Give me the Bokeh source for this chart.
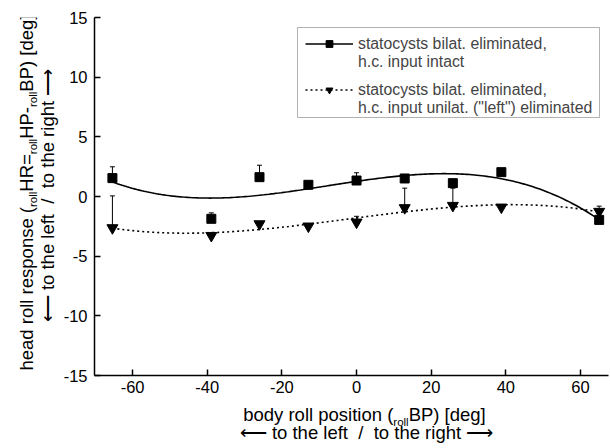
import numpy as np
from bokeh.plotting import figure
from bokeh.layouts import column, row
from bokeh.models import (Whisker, TeeHead, Label, Legend, LegendItem, BoxAnnotation,
                          ColumnDataSource, FixedTicker, PrintfTickFormatter)
from bokeh.embed import file_html
from bokeh.resources import INLINE

# ---------------- data ----------------
body_pos = [-65.4, -38.9, -26.0, -12.9, 0.0, 12.9, 25.8, 38.8, 65.0]
resp_intact = [1.54, -1.87, 1.62, 0.98, 1.34, 1.51, 1.12, 2.04, -1.96]
err_intact = [0.95, 0.50, 1.00, 0.0, 0.65, 0.30, 0.0, 0.0, 0.0]
resp_unilat = [-2.63, -3.28, -2.30, -2.49, -2.16, -0.95, -0.76, -0.90, -1.26]
err_unilat = [2.68, 0.0, 0.0, 0.0, 0.50, 1.65, 1.46, 0.0, 0.45]
x_ticks = [-60, -40, -20, 0, 20, 40, 60]
y_ticks = [-15, -10, -5, 0, 5, 10, 15]
legend_line1 = ["statocysts bilat. eliminated,", "statocysts bilat. eliminated,"]
legend_line2 = ["h.c. input intact", "h.c. input unilat. (\"left\") eliminated"]
direction_text = "\u27f5 to the left\u00a0 /\u00a0 to the right \u27f6"

FONT = "Liberation Sans"
XMIN, XMAX, YMIN, YMAX = -70.2, 67.5, -15, 15

# page layout (pixels): y-title strip | main plot ; x-title strip below
YT_W = 60
MAIN_W, MAIN_H = 550, 400
XT_H = 48
BL, BR, BT, BB = 34, 2, 17, 25
FL = YT_W + BL            # frame left (page px)
FT = BT                   # frame top
FW = MAIN_W - BL - BR
FH = MAIN_H - BT - BB
FB = FT + FH


def dx(px):
    return XMIN + (px - FL) * (XMAX - XMIN) / FW


def dy(py):
    return YMAX - (py - FT) * (YMAX - YMIN) / FH


# Helvetica / Arial advance widths (1/1000 em)
AW = {' ': 278, 'a': 556, 'b': 556, 'c': 500, 'd': 556, 'e': 556, 'g': 556,
      'h': 556, 'i': 222, 'l': 222, 'n': 556, 'o': 556, 'p': 556, 'r': 333,
      's': 500, 't': 278, 'y': 500, '(': 333, ')': 333, '[': 278, ']': 278,
      '=': 584, '-': 333, 'H': 722, 'R': 722, 'P': 667, 'B': 667}


def tw(s, size):
    return sum(AW.get(c, 556) for c in s) * size / 1000.0


# ---------------- main plot ----------------
p = figure(width=MAIN_W, height=MAIN_H, x_range=(XMIN, XMAX), y_range=(YMIN, YMAX),
           output_backend="svg", toolbar_location=None,
           min_border_left=BL, min_border_right=BR, min_border_top=BT,
           min_border_bottom=BB)
p.outline_line_color = None
p.xgrid.visible = False
p.ygrid.visible = False
p.background_fill_color = "white"
p.border_fill_color = "white"

for ax, ticks in ((p.xaxis[0], x_ticks), (p.yaxis[0], y_ticks)):
    ax.ticker = FixedTicker(ticks=ticks)
    ax.formatter = PrintfTickFormatter(format="%d")
    ax.axis_line_color = "black"
    ax.axis_line_width = 1.5
    ax.major_tick_line_color = "black"
    ax.major_tick_line_width = 1.5
    ax.major_tick_in = 6
    ax.major_tick_out = 0
    ax.minor_tick_line_color = None
    ax.major_label_text_font = FONT
    ax.major_label_text_font_size = "16.5px"
    ax.major_label_text_color = "black"
p.xaxis.major_label_standoff = 5
p.yaxis.major_label_standoff = 7

# fitted curves (cubic regression through the data)
xs = np.linspace(min(body_pos), max(body_pos), 200)
fit_a = np.polyval(np.polyfit(body_pos, resp_intact, 3), xs)
fit_b = np.polyval(np.polyfit(body_pos, resp_unilat, 3), xs)

line_a = p.line(xs, fit_a, line_color="black", line_width=1.6)
line_b = p.line(xs, fit_b, line_color="black", line_width=1.6, line_dash="2 3")

# error bars (one-sided, upwards)
ia = [i for i, e in enumerate(err_intact) if e > 0]
src_ea = ColumnDataSource(dict(x=[body_pos[i] for i in ia],
                               lo=[resp_intact[i] for i in ia],
                               hi=[resp_intact[i] + err_intact[i] for i in ia]))
ib = [i for i, e in enumerate(err_unilat) if e > 0]
src_eb = ColumnDataSource(dict(x=[body_pos[i] for i in ib],
                               lo=[resp_unilat[i] for i in ib],
                               hi=[resp_unilat[i] + err_unilat[i] for i in ib]))
for src in (src_ea, src_eb):
    p.add_layout(Whisker(source=src, base="x", lower="lo", upper="hi",
                         dimension="height", line_color="black", line_width=1,
                         lower_head=None,
                         upper_head=TeeHead(size=5, line_color="black", line_width=1)))

sq = p.scatter(body_pos, resp_intact, marker="square", size=9,
               fill_color="black", line_color="black")
tri = p.scatter(body_pos, resp_unilat, marker="inverted_triangle", size=11,
                fill_color="black", line_color="black")
blank = p.line(x=[], y=[], line_alpha=0)  # glyph-free continuation lines

# legend frame
p.add_layout(BoxAnnotation(left=dx(297), right=dx(599), top=dy(27), bottom=dy(117),
                           fill_color="white", fill_alpha=1.0,
                           line_color="black", line_width=1))


def make_legend(l1, l2, rends, top_px):
    lg = Legend(items=[LegendItem(label=l1, renderers=rends),
                       LegendItem(label=l2, renderers=[blank])],
                location=(305 - FL, FB - (top_px + 34)))
    lg.label_text_font = FONT
    lg.label_text_font_size = "15.8px"
    lg.label_text_line_height = 0.94
    lg.label_height = 17
    lg.glyph_height = 17
    lg.glyph_width = 48
    lg.label_standoff = 5
    lg.padding = 0
    lg.spacing = 0
    lg.margin = 0
    lg.border_line_color = None
    lg.background_fill_alpha = 0.0
    p.add_layout(lg)


make_legend(legend_line1[0], legend_line2[0], [line_a, sq], 36.5)
make_legend(legend_line1[1], legend_line2[1], [line_b, tri], 82.5)

MAIN, SUB, SHIFT = 18.5, 11.5, 5.5
K = 0.3465  # text-box centre above the baseline, in em


def text_strip(w, h):
    f = figure(width=w, height=h, x_range=(0, w), y_range=(0, h),
               x_axis_type=None, y_axis_type=None, output_backend="svg",
               toolbar_location=None, min_border=0)
    f.outline_line_color = None
    f.background_fill_color = "white"
    f.border_fill_color = "white"
    return f


def piece(f, x, y, text, size, angle=0.0, align="left"):
    f.add_layout(Label(x=x, y=y, x_units="canvas", y_units="canvas",
                       text=text, angle=angle, text_align=align,
                       text_baseline="middle", text_font=FONT,
                       text_font_size=f"{size}px", text_color="black"))


# ---------------- y title strip (page x 0..60) ----------------
yt = text_strip(YT_W, MAIN_H)
parts_y = [("head roll response (", False), ("roll", True), ("HR=", False),
           ("roll", True), ("HP-", False), ("roll", True), ("BP) [deg]", False)]
py_ = 370.0
for t, sub in parts_y:
    size = SUB if sub else MAIN
    base = 32.5 + (SHIFT - 1.5 if sub else 0)
    piece(yt, base - K * size, py_, t, size, angle=np.pi / 2)
    py_ -= tw(t, size)
piece(yt, 53 - K * MAIN, 195, direction_text, MAIN, angle=np.pi / 2, align="center")

# ---------------- x title strip (page y 400..448) ----------------
xt = text_strip(YT_W + MAIN_W, XT_H)
Y0 = MAIN_H
parts_x = [("body roll position (", False), ("roll", True), ("BP) [deg]", False)]
px_ = 242.7
for t, sub in parts_x:
    size = SUB if sub else MAIN
    base = 420 + (SHIFT if sub else 0)
    piece(xt, px_, base - Y0 - K * size, t, size)
    px_ += tw(t, size)
piece(xt, 366, 438 - Y0 - K * MAIN, direction_text, MAIN, align="center")

layout = column(row(yt, p), xt)
open("out.html", "w").write(file_html(layout, INLINE))
